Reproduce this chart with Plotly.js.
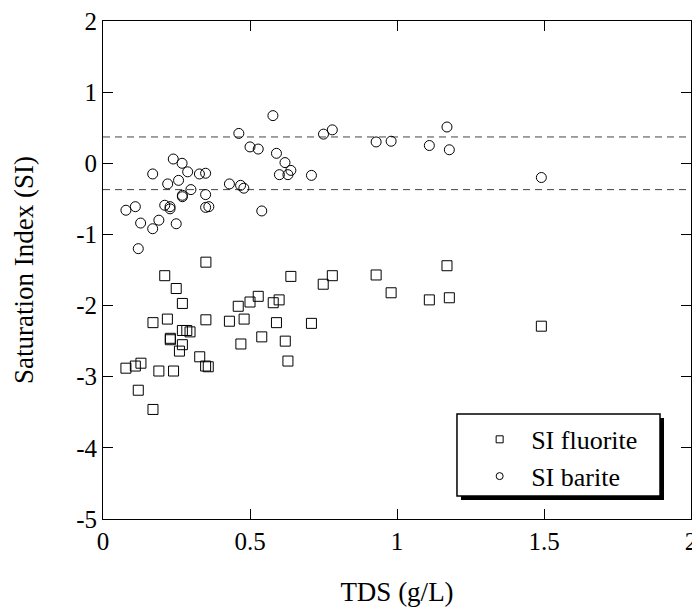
<!DOCTYPE html>
<html>
<head>
<meta charset="utf-8">
<script src="https://cdn.plot.ly/plotly-3.0.1.min.js"></script>
<style>html,body{margin:0;padding:0;background:#fff;}#chart{width:692px;height:607px;}</style>
</head>
<body>
<div id="chart"></div>
<script>
// TDS (g/L) and saturation index values
const fluoriteTDS = [0.350,0.210,0.249,0.270,0.170,0.219,0.350,0.430,0.480,0.460,0.500,0.528,0.579,0.599,0.639,0.590,0.709,0.749,0.780,0.929,0.980,0.270,0.285,0.296,0.229,0.229,0.270,0.260,0.469,0.540,0.620,0.629,0.329,0.349,0.358,0.078,0.110,0.129,0.190,0.240,0.120,0.170,1.170,1.110,1.178,1.491];
const fluoriteSI  = [-1.39,-1.58,-1.76,-1.97,-2.24,-2.19,-2.20,-2.22,-2.19,-2.01,-1.95,-1.87,-1.96,-1.92,-1.59,-2.24,-2.25,-1.70,-1.58,-1.57,-1.82,-2.35,-2.35,-2.37,-2.46,-2.48,-2.55,-2.64,-2.54,-2.44,-2.50,-2.78,-2.72,-2.85,-2.86,-2.88,-2.85,-2.81,-2.92,-2.92,-3.19,-3.46,-1.44,-1.92,-1.89,-2.29];
const bariteTDS = [0.078,0.110,0.128,0.120,0.169,0.169,0.190,0.210,0.220,0.228,0.228,0.239,0.249,0.257,0.269,0.270,0.270,0.288,0.299,0.328,0.349,0.349,0.349,0.360,0.430,0.462,0.468,0.479,0.500,0.528,0.540,0.578,0.590,0.600,0.619,0.629,0.639,0.709,0.750,0.780,0.929,0.980,1.110,1.170,1.178,1.491];
const bariteSI  = [-0.66,-0.61,-0.84,-1.20,-0.92,-0.15,-0.80,-0.59,-0.29,-0.61,-0.64,0.06,-0.85,-0.24,0.00,-0.45,-0.47,-0.12,-0.37,-0.15,-0.14,-0.44,-0.62,-0.61,-0.29,0.42,-0.31,-0.35,0.23,0.20,-0.67,0.67,0.14,-0.16,0.01,-0.16,-0.10,-0.17,0.41,0.47,0.30,0.31,0.25,0.51,0.19,-0.20];
const equilibriumBand = [-0.37, 0.37];
const seriesNames = ['SI fluorite', 'SI barite'];
const xTicks = [0, 0.5, 1, 1.5, 2];
const xTickLabels = ['0', '0.5', '1', '1.5', '2'];
const yTicks = [-5, -4, -3, -2, -1, 0, 1, 2];
const yTickLabels = ['-5', '-4', '-3', '-2', '-1', '0', '1', '2'];

const serif = 'Liberation Serif, Times New Roman, serif';
const mk = (sym, size) => ({symbol: sym, size: size, color: '#000', line: {color: '#000', width: 1}});

const traces = [
  {x: fluoriteTDS, y: fluoriteSI, mode: 'markers', type: 'scatter', name: seriesNames[0], showlegend: false, marker: mk('square-open', 10), cliponaxis: false},
  {x: bariteTDS, y: bariteSI, mode: 'markers', type: 'scatter', name: seriesNames[1], showlegend: false, marker: mk('circle-open', 10), cliponaxis: false},
  {x: [null], y: [null], mode: 'markers', type: 'scatter', name: seriesNames[0], marker: mk('square-open', 7)},
  {x: [null], y: [null], mode: 'markers', type: 'scatter', name: seriesNames[1], marker: mk('circle-open', 7)}
];

const shapes = equilibriumBand.map(v => ({type: 'line', xref: 'paper', x0: 0, x1: 1, yref: 'y', y0: v, y1: v, line: {color: '#444', width: 1, dash: '7px,5px'}, layer: 'below'}));
// legend frame with drop shadow
shapes.push({type: 'rect', xref: 'paper', yref: 'paper', x0: 0.6088, x1: 0.9541, y0: 0.0382, y1: 0.2028, fillcolor: '#000', line: {width: 0}, layer: 'above'});
shapes.push({type: 'rect', xref: 'paper', yref: 'paper', x0: 0.6020, x1: 0.9473, y0: 0.0462, y1: 0.2108, fillcolor: '#fff', line: {color: '#000', width: 1.5}, layer: 'above'});

const axisCommon = {
  showline: true, linecolor: '#000', linewidth: 1, mirror: 'ticks',
  ticks: 'inside', ticklen: 10, tickwidth: 1, tickcolor: '#000',
  showgrid: false, zeroline: false, ticklabeloverflow: 'allow',
  tickfont: {family: serif, size: 25, color: '#000'}
};

const layout = {
  width: 692, height: 607,
  margin: {l: 103, r: 1, t: 21, b: 88},
  paper_bgcolor: '#fff', plot_bgcolor: '#fff',
  font: {family: serif, color: '#000'},
  xaxis: Object.assign({}, axisCommon, {
    range: [0, 2], tickvals: xTicks, ticktext: xTickLabels,
    title: {text: 'TDS (g/L)', font: {family: serif, size: 27, color: '#000'}, standoff: 29}
  }),
  yaxis: Object.assign({}, axisCommon, {
    range: [-5, 2], tickvals: yTicks, ticktext: yTickLabels,
    title: {text: 'Saturation Index (SI)', font: {family: serif, size: 27, color: '#000'}, standoff: 34}
  }),
  showlegend: true,
  legend: {
    x: 0.621, y: 0.207, xanchor: 'left', yanchor: 'top',
    bgcolor: 'rgba(0,0,0,0)', borderwidth: 0,
    font: {family: serif, size: 26, color: '#000'},
    itemwidth: 53, tracegroupgap: 0
  },
  shapes: shapes
};

Plotly.newPlot('chart', traces, layout, {displayModeBar: false, staticPlot: true});
</script>
</body>
</html>
